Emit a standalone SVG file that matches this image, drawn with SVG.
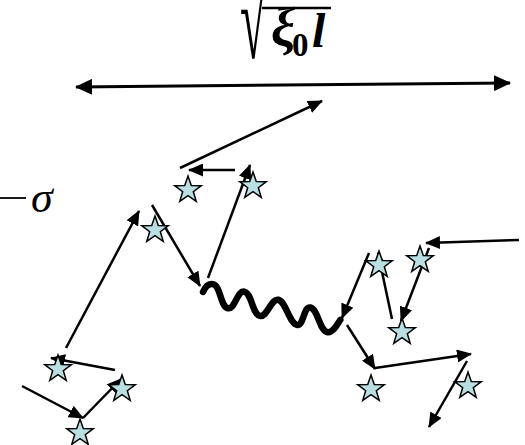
<svg xmlns="http://www.w3.org/2000/svg" xmlns:xlink="http://www.w3.org/1999/xlink" width="525" height="445" viewBox="0 0 525 445">
<style>
.c{stroke:#000;stroke-width:2.5;fill:none;marker-end:url(#ah)}
.st{fill:#b9dfe2;stroke:#000;stroke-width:1.5;stroke-linejoin:miter}
.m{font-family:"Liberation Serif","Times New Roman",serif;fill:#000}
</style>
<defs>
<marker id="ah" viewBox="0 0 15 13" refX="14" refY="6.5" markerWidth="15" markerHeight="13" markerUnits="userSpaceOnUse" orient="auto"><path d="M0,0 L15,6.5 L0,13 z" fill="#000"/></marker>
<marker id="ahb" viewBox="0 0 17 16" refX="16" refY="8" markerWidth="17" markerHeight="16" markerUnits="userSpaceOnUse" orient="auto-start-reverse"><path d="M0,0 L17,8 L0,16 z" fill="#000"/></marker>
<polygon id="star" points="0,-14 3.29,-4.53 13.31,-4.33 5.33,1.73 8.23,11.33 0,5.6 -8.23,11.33 -5.33,1.73 -13.31,-4.33 -3.29,-4.53"/>
</defs>
<rect width="525" height="445" fill="#fff"/>
<g id="label-top">
<text class="m" font-size="48" transform="translate(240,58) scale(1,2.3)">√</text>
<line x1="262" y1="8" x2="331" y2="8" stroke="#000" stroke-width="2.5"/>
<text class="m" x="271" y="46" font-size="54" font-weight="bold" font-style="italic">ξ</text>
<text class="m" x="292" y="56" font-size="33" font-weight="bold">0</text>
<text class="m" x="312" y="47" font-size="48" font-weight="bold" font-style="italic">l</text>
</g>
<g id="label-sigma">
<line x1="0" y1="198" x2="26" y2="198" stroke="#000" stroke-width="1.8"/>
<text class="m" x="31" y="212" font-size="44" font-style="italic">σ</text>
</g>
<g id="connectors">
<line x1="76" y1="87" x2="510" y2="83" stroke="#000" stroke-width="3" marker-start="url(#ahb)" marker-end="url(#ahb)"/>
<line class="c" x1="180" y1="168" x2="322" y2="101"/>
<line class="c" x1="235" y1="170" x2="189" y2="170"/>
<line class="c" x1="208" y1="278" x2="250" y2="165"/>
<line class="c" x1="152" y1="205" x2="200" y2="286"/>
<line class="c" x1="66" y1="348" x2="139" y2="211"/>
<line class="c" x1="369" y1="253" x2="342" y2="318"/>
<line class="c" x1="392" y1="319" x2="378" y2="253"/>
<line class="c" x1="429" y1="248" x2="401" y2="321"/>
<line class="c" x1="519" y1="240" x2="426" y2="243"/>
<line class="c" x1="347" y1="325" x2="375" y2="369"/>
<line class="c" x1="375" y1="368" x2="471" y2="354"/>
<line class="c" x1="467" y1="361" x2="429" y2="427"/>
<line class="c" x1="115" y1="370" x2="51" y2="358"/>
<line class="c" x1="22" y1="386" x2="83" y2="418"/>
<line class="c" x1="83" y1="418" x2="121" y2="379"/>
</g>
<g id="wave" transform="translate(203,292) rotate(13.5)">
<path d="M0,0 C1,-6 3,-10 8,-10 C16,-10 20,10 28,10 C35,10 33,-10 40,-10 C48,-10 53,10 61,10 C68,10 68,-10 75,-10 C83,-10 91,10 99,10 C106,10 101,-10 108,-10 C116,-10 122,10 130,10 C136,10 138,0 140,-5" fill="none" stroke="#000" stroke-width="6.5" stroke-linecap="round"/>
</g>
<g id="star1"><use xlink:href="#star" class="st" x="188" y="190"/></g>
<g id="star2"><use xlink:href="#star" class="st" x="253" y="186"/></g>
<g id="star3"><use xlink:href="#star" class="st" x="155" y="230"/></g>
<g id="star4"><use xlink:href="#star" class="st" x="379" y="265"/></g>
<g id="star5"><use xlink:href="#star" class="st" x="420" y="260"/></g>
<g id="star6"><use xlink:href="#star" class="st" x="402" y="332"/></g>
<g id="star7"><use xlink:href="#star" class="st" x="371" y="389"/></g>
<g id="star8"><use xlink:href="#star" class="st" x="468" y="386"/></g>
<g id="star9"><use xlink:href="#star" class="st" x="58" y="369"/></g>
<g id="star10"><use xlink:href="#star" class="st" x="122" y="389"/></g>
<g id="star11"><use xlink:href="#star" class="st" x="80" y="433"/></g>
</svg>
